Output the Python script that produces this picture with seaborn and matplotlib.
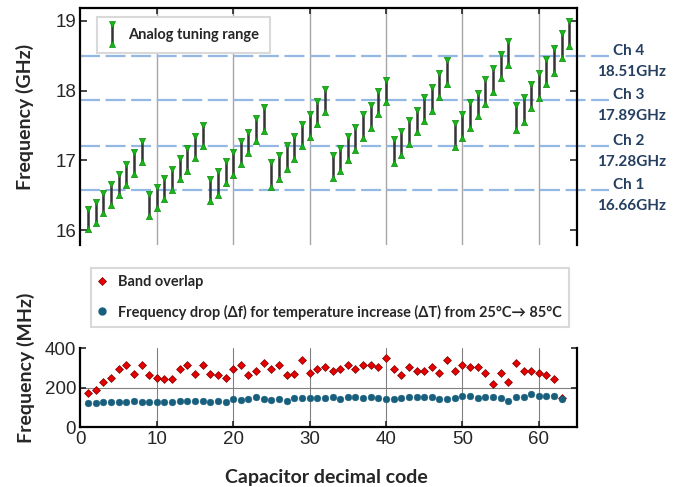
import matplotlib
matplotlib.use("Agg")
import matplotlib.pyplot as plt
import seaborn as sns
import pandas as pd
from matplotlib.lines import Line2D
from matplotlib.legend_handler import HandlerBase

# analog tuning range per capacitor code (GHz)
codes = list(range(1, 65))
f_high = [16.30, 16.40, 16.53, 16.66, 16.80, 16.95, 17.12, 17.27,
          16.51, 16.61, 16.75, 16.88, 17.04, 17.17, 17.35, 17.51,
          16.73, 16.85, 16.99, 17.12, 17.27, 17.41, 17.60, 17.76,
          16.97, 17.07, 17.22, 17.35, 17.52, 17.66, 17.85, 18.02,
          17.08, 17.18, 17.35, 17.48, 17.66, 17.80, 18.00, 18.15,
          17.31, 17.42, 17.58, 17.72, 17.91, 18.05, 18.25, 18.44,
          17.54, 17.66, 17.83, 17.97, 18.17, 18.32, 18.53, 18.71,
          17.79, 17.91, 18.10, 18.25, 18.45, 18.61, 18.82, 19.00]
f_low = [16.01, 16.10, 16.24, 16.36, 16.50, 16.65, 16.81, 16.98,
         16.20, 16.31, 16.45, 16.57, 16.73, 16.85, 17.04, 17.21,
         16.41, 16.50, 16.67, 16.79, 16.94, 17.10, 17.28, 17.42,
         16.62, 16.73, 16.88, 17.02, 17.20, 17.33, 17.52, 17.69,
         16.74, 16.85, 17.01, 17.15, 17.32, 17.47, 17.66, 17.83,
         16.96, 17.08, 17.24, 17.40, 17.56, 17.71, 17.91, 18.09,
         17.19, 17.32, 17.47, 17.63, 17.81, 17.98, 18.18, 18.36,
         17.43, 17.55, 17.75, 17.90, 18.09, 18.25, 18.47, 18.64]

# channel lines
ch_names = ["Ch 1", "Ch 2", "Ch 3", "Ch 4"]
ch_freq = [16.57, 17.20, 17.86, 18.49]
ch_text = ["16.66GHz", "17.28GHz", "17.89GHz", "18.51GHz"]

# bottom panel (MHz)
codes2 = list(range(1, 64))
band_overlap = [175, 186, 228, 250, 292, 314, 270, 314, 264, 250, 242, 242, 292, 314, 270, 314,
                270, 264, 250, 292, 314, 264, 284, 326, 292, 314, 264, 270, 339, 272, 292, 306,
                284, 292, 314, 292, 314, 314, 306, 348, 292, 264, 306, 284, 284, 306, 272, 339,
                284, 314, 306, 306, 272, 217, 272, 228, 326, 284, 284, 272, 264, 242, 150]
freq_drop = [122, 122, 129, 129, 129, 129, 133, 129, 129, 129, 129, 129, 134, 134, 134, 134,
             129, 133, 129, 143, 136, 144, 151, 143, 136, 143, 131, 148, 146, 150, 148, 146,
             151, 143, 151, 151, 148, 151, 148, 143, 143, 148, 154, 154, 154, 151, 143, 143,
             148, 156, 156, 148, 154, 151, 148, 134, 151, 154, 166, 156, 156, 156, 144]

df_top = pd.DataFrame({"code": codes, "high": f_high, "low": f_low})
df_bot = pd.DataFrame({"code": codes2, "overlap": band_overlap, "drop": freq_drop})

sns.set_theme(style="white")
plt.rcParams["font.family"] = ["Liberation Sans", "DejaVu Sans"]
bold_font = ["Lato", "DejaVu Sans"]

GREEN = "#1cb41c"
GREEN_E = "#0b8f0b"
BAR = "#333333"
DASH = "#94b8e4"
NAVY = "#243f60"
RED = "#e60000"
BLUE = "#185f7e"

fig = plt.figure(figsize=(6.78, 4.87), dpi=100)
ax1 = fig.add_axes([0.1186, 0.4969, 0.7324, 0.4867])
ax2 = fig.add_axes([0.1186, 0.1226, 0.7324, 0.1628])

# ---- top panel
for x in range(10, 61, 10):
    ax1.axvline(x, color="#a6a6a6", lw=1.0, zorder=0)
for f in ch_freq:
    ax1.plot([0, 69.2], [f, f], color=DASH, lw=1.6, ls=(0, (9, 2.5)),
             clip_on=False, zorder=1)
ax1.vlines(df_top["code"], df_top["low"], df_top["high"], color=BAR, lw=1.8, zorder=2)
sns.scatterplot(data=df_top, x="code", y="high", marker="v", s=20, color=GREEN,
                edgecolor=GREEN_E, linewidth=0.5, ax=ax1, zorder=3, legend=False)
sns.scatterplot(data=df_top, x="code", y="low", marker="^", s=20, color=GREEN,
                edgecolor=GREEN_E, linewidth=0.5, ax=ax1, zorder=3, legend=False)

for name, f, t in zip(ch_names, ch_freq, ch_text):
    ax1.annotate(name, xy=(71.8, f), xytext=(0, 4), textcoords="offset points",
                 ha="center", va="center", fontsize=11, fontweight="bold",
                 color=NAVY, family=bold_font, annotation_clip=False)
    ax1.annotate(t, xy=(72.2, f), xytext=(0, -11), textcoords="offset points",
                 ha="center", va="center", fontsize=11, fontweight="bold",
                 color=NAVY, family=bold_font, annotation_clip=False)

ax1.set_xlim(0, 65)
ax1.set_ylim(15.785, 19.185)
ax1.set_yticks([16, 17, 18, 19])
ax1.set_xticks(range(0, 61, 10))
ax1.tick_params(axis="x", which="both", bottom=False, labelbottom=False, top=True,
                direction="in", length=4, width=1.2)
ax1.tick_params(axis="y", left=True, right=True, direction="in", length=5, width=1.2,
                labelsize=13.5, pad=3)
ax1.spines["bottom"].set_visible(False)
for s in ["top", "left", "right"]:
    ax1.spines[s].set_color("black")
    ax1.spines[s].set_linewidth(1.6)
ax1.set_xlabel("")
ax1.set_ylabel("")


class TuningHandler(HandlerBase):
    def create_artists(self, legend, orig, xd, yd, w, h, fontsize, trans):
        cx = xd + w / 2
        y0, y1 = yd - 0.45 * h, yd + 1.45 * h
        line = Line2D([cx, cx], [y0, y1], color=BAR, lw=1.8, transform=trans)
        top = Line2D([cx], [y1], marker="v", ms=4.5, color=GREEN, mec=GREEN_E,
                     mew=0.5, ls="", transform=trans)
        bot = Line2D([cx], [y0], marker="^", ms=4.5, color=GREEN, mec=GREEN_E,
                     mew=0.5, ls="", transform=trans)
        return [line, top, bot]


leg1 = ax1.legend([Line2D([], [])], ["Analog tuning range"],
                  handler_map={Line2D: TuningHandler()},
                  loc="upper left", bbox_to_anchor=(0.033, 0.962), borderaxespad=0,
                  handlelength=0.6, handletextpad=0.8, borderpad=0.75,
                  fancybox=False, framealpha=1, edgecolor="#d9d9d9",
                  prop={"family": bold_font, "weight": "bold", "size": 10.5})
leg1.get_frame().set_linewidth(1.5)

# ---- bottom panel
for x in range(10, 61, 10):
    ax2.axvline(x, color="#808080", lw=0.8, zorder=0)
ax2.axhline(200, color="#808080", lw=0.8, zorder=0)
sns.scatterplot(data=df_bot, x="code", y="overlap", marker="D", s=16, color=RED,
                edgecolor="#7a0000", linewidth=0.5, ax=ax2, zorder=2, legend=False)
sns.scatterplot(data=df_bot, x="code", y="drop", marker="o", s=24, color=BLUE,
                edgecolor=BLUE, linewidth=0.3, ax=ax2, zorder=3, legend=False)
ax2.set_xlim(0, 65)
ax2.set_ylim(0, 400)
ax2.set_yticks([0, 200, 400])
ax2.set_xticks(range(0, 61, 10))
ax2.tick_params(axis="x", bottom=True, direction="in", length=4, width=1.2,
                labelsize=13.5, pad=3)
ax2.tick_params(axis="y", left=True, right=True, direction="in", length=4, width=1.2,
                labelsize=13.5, pad=3)
ax2.spines["top"].set_visible(False)
for s in ["bottom", "left", "right"]:
    ax2.spines[s].set_color("black")
    ax2.spines[s].set_linewidth(1.6)
ax2.set_xlabel("")
ax2.set_ylabel("")

h_red = Line2D([], [], ls="", marker="D", ms=4, color=RED, mec="#7a0000", mew=0.5)
h_blue = Line2D([], [], ls="", marker="o", ms=5, color=BLUE, mec=BLUE)
leg2 = fig.legend([h_red, h_blue],
                  ["Band overlap",
                   "Frequency drop (\u0394f) for temperature increase (\u0394T) from 25\u00b0C\u2192 85\u00b0C"],
                  loc="upper left", bbox_to_anchor=(90.7 / 678, 1 - 268 / 487),
                  borderaxespad=0, handlelength=0.6, handletextpad=0.8,
                  labelspacing=1.05, borderpad=0.5, fancybox=False, framealpha=1,
                  edgecolor="#d9d9d9",
                  prop={"family": bold_font, "weight": "bold", "size": 10.45})
leg2.get_frame().set_linewidth(1.5)

# axis labels
fig.text(25 / 678, 1 - 117 / 487, "Frequency (GHz)", rotation=90, ha="center", va="center",
         fontsize=14, fontweight="bold", family=bold_font)
fig.text(26 / 678, 1 - 368 / 487, "Frequency (MHz)", rotation=90, ha="center", va="center",
         fontsize=14, fontweight="bold", family=bold_font)
fig.text(326 / 678, 1 - 477 / 487, "Capacitor decimal code", ha="center", va="center",
         fontsize=14, fontweight="bold", family=bold_font)

fig.savefig("out.png", dpi=100)
